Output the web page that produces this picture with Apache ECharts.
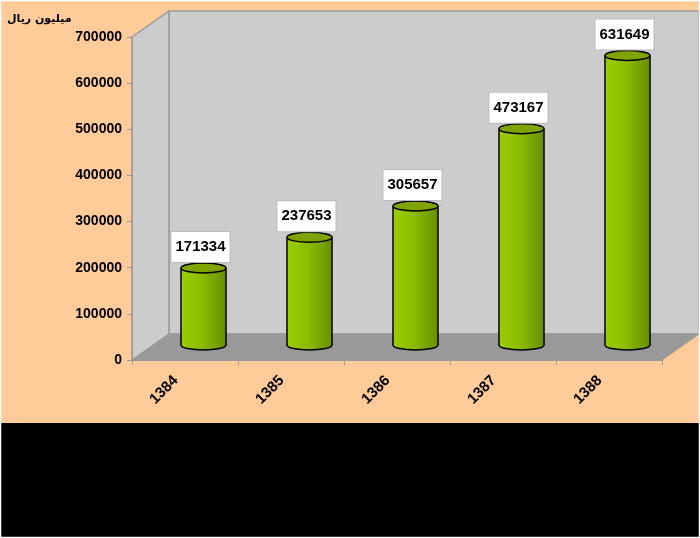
<!DOCTYPE html>
<html>
<head>
<meta charset="utf-8">
<script src="https://cdn.jsdelivr.net/npm/echarts@6/dist/echarts.min.js"></script>
<style>
    html, body { margin: 0; padding: 0; background: #000; }
    #container { width: 700px; height: 538px; }
</style>
</head>
<body>
<div id="container"></div>
<script type="text/javascript">
    // data
    var years = ['1384', '1385', '1386', '1387', '1388'];
    var values = [171334, 237653, 305657, 473167, 631649];
    var yTicks = [0, 100000, 200000, 300000, 400000, 500000, 600000, 700000];

    // 3d depth of the plot box
    var DX = 37, DY = 26;

    var dom = document.getElementById('container');
    var myChart = echarts.init(dom);

    function renderCylinder(params, api) {
        var idx = api.value(0);
        var v = api.value(1);
        var top = api.coord([idx, v]);
        var base = api.coord([idx, 0]);
        var cx = top[0] + DX / 2;
        var topY = top[1] - DY / 2;
        var baseY = base[1] - DY / 2 - 2;
        var rx = 22.5, ry = 5;
        var grad = new echarts.graphic.LinearGradient(0, 0, 1, 0, [
            { offset: 0, color: '#9ACD00' },
            { offset: 0.45, color: '#8DBD00' },
            { offset: 1, color: '#678F00' }
        ]);
        return {
            type: 'group',
            children: [
                {
                    type: 'ellipse',
                    shape: { cx: cx, cy: baseY, rx: rx, ry: ry },
                    style: { fill: grad, stroke: '#000', lineWidth: 1.5 }
                },
                {
                    type: 'rect',
                    shape: { x: cx - rx, y: topY, width: rx * 2, height: baseY - topY },
                    style: { fill: grad }
                },
                {
                    type: 'line',
                    shape: { x1: cx - rx, y1: topY, x2: cx - rx, y2: baseY },
                    style: { stroke: '#000', lineWidth: 1.5 }
                },
                {
                    type: 'line',
                    shape: { x1: cx + rx, y1: topY, x2: cx + rx, y2: baseY },
                    style: { stroke: '#000', lineWidth: 1.5 }
                },
                {
                    type: 'ellipse',
                    shape: { cx: cx, cy: topY, rx: rx, ry: ry },
                    style: { fill: '#7FA300', stroke: '#000', lineWidth: 1.5 }
                },
                {
                    type: 'text',
                    style: {
                        text: String(values[params.dataIndex]),
                        x: cx - 3,
                        y: topY - 21,
                        align: 'center',
                        verticalAlign: 'middle',
                        font: 'bold 15px "Liberation Sans", Arial, sans-serif',
                        fill: '#000',
                        backgroundColor: '#fff',
                        borderColor: '#bbb',
                        borderWidth: 1,
                        padding: [8, 4, 7, 4]
                    }
                }
            ]
        };
    }

    var option = {
        backgroundColor: '#FFCC99',
        animation: false,
        title: {
            text: 'میلیون ریال',
            left: 7,
            top: 14,
            padding: 0,
            textStyle: {
                fontFamily: '"DejaVu Sans", "Noto Sans", sans-serif',
                fontWeight: 'bold',
                fontSize: 11,
                color: '#000'
            }
        },
        grid: { left: 132, top: 37, width: 530, height: 323 },
        xAxis: {
            type: 'category',
            data: years,
            boundaryGap: true,
            axisLine: { lineStyle: { color: '#999', width: 1 } },
            axisTick: { show: true, length: 5, lineStyle: { color: '#999' } },
            axisLabel: {
                rotate: 45,
                margin: 9,
                padding: [0, 13, 0, 0],
                color: '#000',
                fontWeight: 'bold',
                fontSize: 15,
                fontFamily: '"Liberation Sans", Arial, sans-serif'
            },
            splitLine: { show: false }
        },
        yAxis: {
            type: 'value',
            min: yTicks[0],
            max: yTicks[yTicks.length - 1],
            interval: yTicks[1] - yTicks[0],
            axisLine: { show: true, lineStyle: { color: '#999', width: 1 } },
            axisTick: { show: true, length: 5, lineStyle: { color: '#999' } },
            axisLabel: {
                margin: 10,
                color: '#000',
                fontWeight: 'bold',
                fontSize: 14,
                fontFamily: '"Liberation Sans", Arial, sans-serif',
                formatter: function (v) { return String(v); }
            },
            splitLine: { show: false }
        },
        series: [
            {
                type: 'custom',
                renderItem: renderCylinder,
                clip: false,
                z: 5,
                encode: { x: 0, y: 1 },
                data: years.map(function (y, i) { return [i, values[i]]; })
            }
        ]
    };

    myChart.setOption(option);

    // walls and floor from the axis extents
    var c0 = myChart.convertToPixel({ gridIndex: 0 }, [0, yTicks[0]]);
    var c1 = myChart.convertToPixel({ gridIndex: 0 }, [1, yTicks[yTicks.length - 1]]);
    var cN = myChart.convertToPixel({ gridIndex: 0 }, [years.length - 1, yTicks[0]]);
    var band = c1[0] - c0[0];
    var x0 = c0[0] - band / 2, x1 = cN[0] + band / 2, y0 = c0[1], y1 = c1[1];
    var wallStyle = { fill: '#CCCCCC', stroke: '#999', lineWidth: 1.5 };

    myChart.setOption({
        graphic: [
            {
                type: 'polygon', z: -10, silent: true,
                shape: { points: [[x0 + DX, y1 - DY], [x1 + DX, y1 - DY], [x1 + DX, y0 - DY], [x0 + DX, y0 - DY]] },
                style: wallStyle
            },
            {
                type: 'polygon', z: -10, silent: true,
                shape: { points: [[x0, y1], [x0 + DX, y1 - DY], [x0 + DX, y0 - DY], [x0, y0]] },
                style: wallStyle
            },
            {
                type: 'polygon', z: -9, silent: true,
                shape: { points: [[x0, y0], [x0 + DX, y0 - DY], [x1 + DX, y0 - DY], [x1, y0]] },
                style: { fill: '#999999', stroke: '#999', lineWidth: 1 }
            },
            {
                type: 'rect', z: 100, silent: true,
                shape: { x: 0, y: 423, width: 700, height: 115 },
                style: { fill: '#000' }
            },
            {
                type: 'rect', z: 101, silent: true,
                shape: { x: 0.5, y: 0.5, width: 699, height: 537 },
                style: { fill: null, stroke: '#fff', lineWidth: 1.5 }
            }
        ]
    });
</script>
</body>
</html>
